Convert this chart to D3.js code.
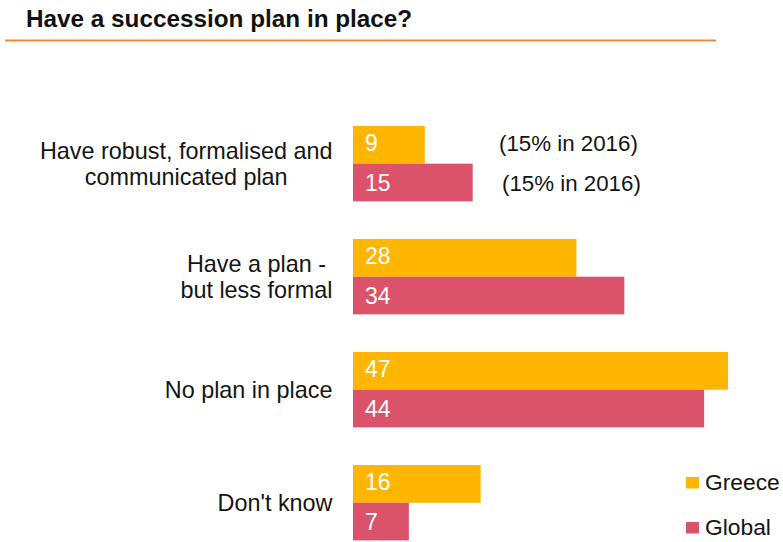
<!DOCTYPE html>
<html>
<head>
<meta charset="utf-8">
<script src="https://cdn.jsdelivr.net/npm/d3@7"></script>
<style>
  html, body { margin: 0; padding: 0; background: #ffffff; }
  svg { display: block; font-family: "Liberation Sans", Arial, sans-serif; }
</style>
</head>
<body>
<svg id="chart" width="783" height="542"></svg>
<script>
// Survey answers: share of respondents (%)
const categories = ["robust", "informal", "none", "unknown"];
const categoryLines = [
  ["Have robust, formalised and", "communicated plan"],
  ["Have a plan -", "but less formal"],
  ["No plan in place"],
  ["Don't know"]
];
const seriesNames = ["Greece", "Global"];
const greeceValues = [9, 28, 47, 16];
const globalValues = [15, 34, 44, 7];
const seriesColors = ["#FFB600", "#DB536A"];
const priorYearNotes = ["(15% in 2016)", "(15% in 2016)"];
const title = "Have a succession plan in place?";

const svg = d3.select("#chart");
const textColor = "#141414";

// Title and rule
svg.append("text")
  .attr("x", 26).attr("y", 27)
  .attr("font-size", 24.3).attr("font-weight", "bold")
  .attr("fill", "#111")
  .text(title);
svg.append("line")
  .attr("x1", 5).attr("x2", 716)
  .attr("y1", 40.5).attr("y2", 40.5)
  .attr("stroke", "#E8893C").attr("stroke-width", 2.2);

// Scales
const x = d3.scaleLinear().domain([0, 50]).range([353, 752]);
const y = d3.scaleBand().domain(categories).range([126, 540.4]).paddingInner(0.3333).paddingOuter(0);
const ySeries = d3.scaleBand().domain(seriesNames).range([0, y.bandwidth()]).padding(0);

const rows = categories.map((c, i) => ({
  key: c,
  lines: categoryLines[i],
  values: [greeceValues[i], globalValues[i]]
}));

const groups = svg.append("g").selectAll("g.group")
  .data(rows).join("g")
  .attr("class", "group")
  .attr("transform", d => `translate(0,${y(d.key)})`);

// Bars
groups.selectAll("rect")
  .data(d => d.values.map((v, j) => ({ series: seriesNames[j], value: v, color: seriesColors[j] })))
  .join("rect")
  .attr("x", x(0))
  .attr("y", d => ySeries(d.series))
  .attr("width", d => x(d.value) - x(0))
  .attr("height", ySeries.bandwidth())
  .attr("fill", d => d.color);

// Value labels inside bars
groups.selectAll("text.value")
  .data(d => d.values.map((v, j) => ({ series: seriesNames[j], value: v })))
  .join("text")
  .attr("class", "value")
  .attr("x", x(0) + 12)
  .attr("y", d => ySeries(d.series) + ySeries.bandwidth() / 2 + (d.series === "Greece" ? 6 : 8))
  .attr("font-size", 23)
  .attr("fill", "#ffffff")
  .text(d => d.value);

// Category labels: block right-aligned, lines centred within the block
const labelRight = 332.5;
const lineGap = 26;
groups.each(function (d) {
  const g = d3.select(this);
  const texts = g.selectAll("text.cat")
    .data(d.lines).join("text")
    .attr("class", "cat")
    .attr("font-size", 23.4)
    .attr("fill", textColor)
    .text(t => t);
  const widths = texts.nodes().map(n => n.getComputedTextLength());
  const maxW = d3.max(widths);
  const cx = labelRight - maxW / 2;
  const mid = y.bandwidth() / 2;
  const firstBaseline = mid + 8 - (d.lines.length - 1) * lineGap / 2;
  texts
    .attr("text-anchor", "middle")
    .attr("x", cx)
    .attr("y", (t, k) => firstBaseline + k * lineGap);
});

// 2016 comparison notes beside the first group
const firstGroupTop = y(categories[0]);
svg.append("g").selectAll("text")
  .data(priorYearNotes).join("text")
  .attr("x", (d, j) => j === 0 ? 499 : 502)
  .attr("y", (d, j) => firstGroupTop + ySeries(seriesNames[j]) + ySeries.bandwidth() / 2 + (j === 0 ? 6 : 8))
  .attr("font-size", 22.3)
  .attr("fill", textColor)
  .text(d => d);

// Legend
const legend = svg.append("g").selectAll("g")
  .data(seriesNames).join("g")
  .attr("transform", (d, j) => `translate(686,${477 + j * 45})`);
legend.append("rect")
  .attr("width", 13).attr("height", 11.5)
  .attr("fill", (d, j) => seriesColors[j]);
legend.append("text")
  .attr("x", 19).attr("y", 12.5)
  .attr("font-size", 22.8)
  .attr("fill", textColor)
  .text(d => d);
</script>
</body>
</html>
